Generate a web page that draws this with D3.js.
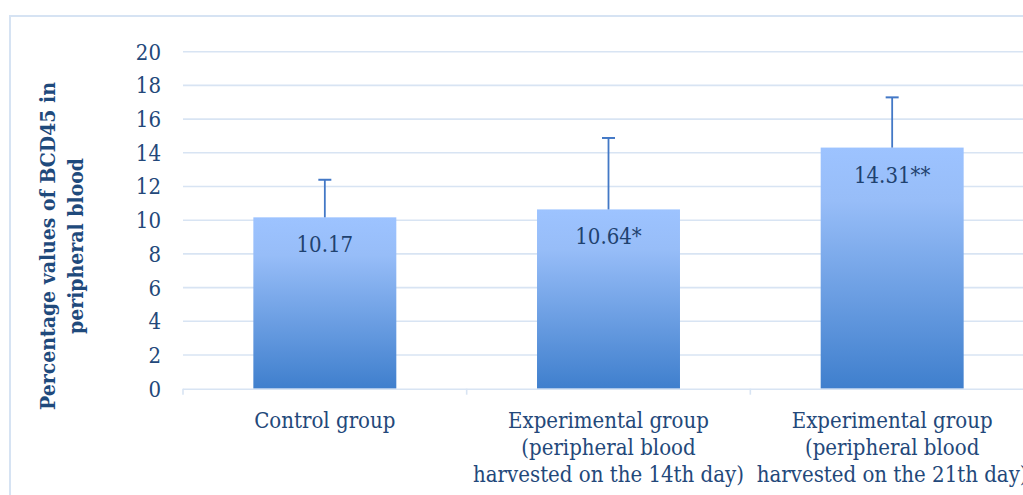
<!DOCTYPE html>
<html><head><meta charset="utf-8">
<script src="https://cdn.jsdelivr.net/npm/d3@7"></script>
<style>
html,body{margin:0;padding:0;background:#fff;}
svg{display:block;}
text{font-family:"DejaVu Serif Condensed","DejaVu Serif",serif;font-stretch:condensed;}
</style></head>
<body><svg id="chart" width="1023" height="495"></svg>
<script>
const categories = ["Control group", "Experimental group 14", "Experimental group 21"];
const categoryLines = [
  ["Control group"],
  ["Experimental group", "(peripheral blood", "harvested on the 14th day)"],
  ["Experimental group", "(peripheral blood", "harvested on the 21th day)"]
];
const values = [10.17, 10.64, 14.31];
const errors = [2.23, 4.24, 2.98];
const valueLabels = ["10.17", "10.64*", "14.31**"];
const yTicks = [0, 2, 4, 6, 8, 10, 12, 14, 16, 18, 20];
const yTitleLines = ["Percentage values of BCD45 in", "peripheral blood"];

const svg = d3.select("#chart");
const W = 1023, H = 495;
const plot = {left: 183, right: 1034, top: 51.7, bottom: 388.7};
const textColor = "#23487a";
const gridColor = "#d8e4f3";

// outer chart border
svg.append("rect").attr("x", 10).attr("y", 16).attr("width", 1100).attr("height", 600)
  .attr("fill", "none").attr("stroke", "#d6e3f3").attr("stroke-width", 2);

const x = d3.scaleBand().domain(categories).range([plot.left, plot.right]).paddingInner(0.496).paddingOuter(0.248);
const y = d3.scaleLinear().domain([0, 20]).range([plot.bottom, plot.top]);

// gradient
const defs = svg.append("defs");
const grad = defs.append("linearGradient").attr("id", "barGrad").attr("x1", 0).attr("y1", 0).attr("x2", 0).attr("y2", 1);
grad.append("stop").attr("offset", "0%").attr("stop-color", "#9dc3ff");
grad.append("stop").attr("offset", "22%").attr("stop-color", "#97bdf8");
grad.append("stop").attr("offset", "100%").attr("stop-color", "#3f7fcd");

// gridlines
svg.append("g").selectAll("line").data(yTicks.filter(d => d > 0)).join("line")
  .attr("x1", plot.left).attr("x2", W).attr("y1", d => y(d)).attr("y2", d => y(d))
  .attr("stroke", gridColor).attr("stroke-width", 1.6);

// y tick labels
svg.append("g").selectAll("text").data(yTicks).join("text")
  .attr("x", 161).attr("y", d => y(d)).attr("dy", "0.36em")
  .attr("text-anchor", "end").attr("font-size", 22).attr("fill", textColor)
  .text(d => d);

// bars
svg.append("g").selectAll("rect").data(values).join("rect")
  .attr("x", (d, i) => x(categories[i])).attr("width", x.bandwidth())
  .attr("y", d => y(d)).attr("height", d => y(0) - y(d))
  .attr("fill", "url(#barGrad)");

// x axis line and ticks
const band = x.step();
svg.append("line").attr("x1", plot.left).attr("x2", W).attr("y1", y(0) + 0.5).attr("y2", y(0) + 0.5)
  .attr("stroke", gridColor).attr("stroke-width", 1.6);
const tickPos = d3.range(categories.length + 1).map(i => plot.left + i * band);
svg.append("g").selectAll("line").data(tickPos).join("line")
  .attr("x1", d => d).attr("x2", d => d).attr("y1", y(0)).attr("y2", y(0) + 6)
  .attr("stroke", gridColor).attr("stroke-width", 1.6);

// error bars
const eb = svg.append("g").attr("stroke", "#4378c6");
values.forEach((v, i) => {
  const cx = x(categories[i]) + x.bandwidth() / 2;
  eb.append("line").attr("x1", cx).attr("x2", cx).attr("y1", y(v)).attr("y2", y(v + errors[i])).attr("stroke-width", 1.8);
  eb.append("line").attr("x1", cx - 6.5).attr("x2", cx + 6.5).attr("y1", y(v + errors[i])).attr("y2", y(v + errors[i])).attr("stroke-width", 2);
});

// value labels
svg.append("g").selectAll("text").data(values).join("text")
  .attr("x", (d, i) => x(categories[i]) + x.bandwidth() / 2)
  .attr("y", d => y(d) + 35)
  .attr("text-anchor", "middle").attr("font-size", 22).attr("fill", "#1f426f")
  .text((d, i) => valueLabels[i]);

// category labels
const cl = svg.append("g");
categoryLines.forEach((lines, i) => {
  const cx = x(categories[i]) + x.bandwidth() / 2;
  lines.forEach((ln, j) => {
    cl.append("text").attr("x", cx).attr("y", 428 + j * 27)
      .attr("text-anchor", "middle").attr("font-size", 22).attr("fill", textColor).text(ln);
  });
});

// y title
const yt = svg.append("g").attr("transform", "translate(0,246) rotate(-90)");
yTitleLines.forEach((ln, j) => {
  yt.append("text").attr("x", 0).attr("y", 55 + j * 28)
    .attr("text-anchor", "middle").attr("font-size", 21).attr("font-weight", "bold")
    .attr("fill", "#1f4a7c").text(ln);
});
</script>
</body></html>
